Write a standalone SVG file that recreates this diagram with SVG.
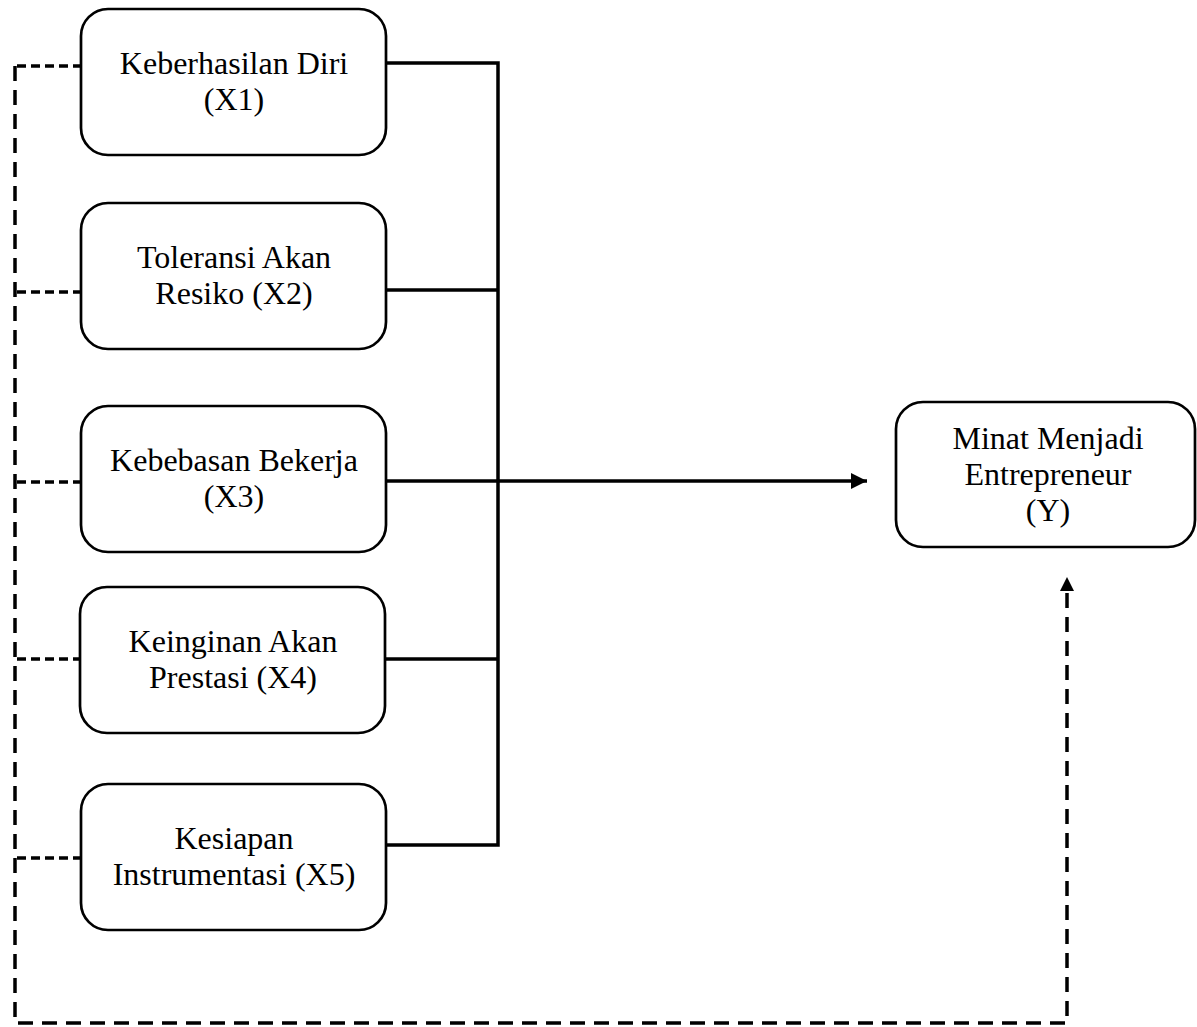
<svg xmlns="http://www.w3.org/2000/svg" width="1197" height="1027" viewBox="0 0 1197 1027">
<style>
.box{fill:#fff;stroke:#000;stroke-width:2.7}
.t{font-family:"Liberation Serif","Times New Roman",serif;font-size:32px;fill:#000;text-anchor:middle}
.solid{fill:none;stroke:#000;stroke-width:3.5}
.dash{fill:none;stroke:#000;stroke-width:3.5;stroke-dasharray:15 9}
.dashs{fill:none;stroke:#000;stroke-width:3.5;stroke-dasharray:9 5}
</style>
<defs>
<marker id="ah2" markerWidth="16" markerHeight="16" refX="16" refY="8" orient="auto" markerUnits="userSpaceOnUse" viewBox="0 0 16 16">
<path d="M0,0 L16,8 L0,16 Z" fill="#000"/>
</marker>
</defs>
<g id="connectors">
<path class="solid" d="M386,63 H498 V845 H386"/>
<path class="solid" d="M386,290 H498"/>
<path class="solid" d="M386,659 H498"/>
<path class="solid" d="M386,481 H867" marker-end="url(#ah2)"/>
<path class="dash" d="M15,66 V1023 H1067 V591"/>
<path d="M1060,591 L1074,591 L1067,577 Z" fill="#000"/>
<path class="dashs" d="M17,66 H81"/>
<path class="dashs" d="M17,292 H81"/>
<path class="dashs" d="M17,482 H81"/>
<path class="dashs" d="M17,659 H81"/>
<path class="dashs" d="M17,858 H81"/>
</g>
<g id="x1">
<rect class="box" x="81" y="9" width="305" height="146" rx="27"/>
<text class="t" x="234" y="74">Keberhasilan Diri</text>
<text class="t" x="234" y="110">(X1)</text>
</g>
<g id="x2">
<rect class="box" x="81" y="203" width="305" height="146" rx="27"/>
<text class="t" x="234" y="268">Toleransi Akan</text>
<text class="t" x="234" y="304">Resiko (X2)</text>
</g>
<g id="x3">
<rect class="box" x="81" y="406" width="305" height="146" rx="27"/>
<text class="t" x="234" y="471">Kebebasan Bekerja</text>
<text class="t" x="234" y="507">(X3)</text>
</g>
<g id="x4">
<rect class="box" x="80" y="587" width="305" height="146" rx="27"/>
<text class="t" x="233" y="652">Keinginan Akan</text>
<text class="t" x="233" y="688">Prestasi (X4)</text>
</g>
<g id="x5">
<rect class="box" x="81" y="784" width="305" height="146" rx="27"/>
<text class="t" x="234" y="849">Kesiapan</text>
<text class="t" x="234" y="885">Instrumentasi (X5)</text>
</g>
<g id="y">
<rect class="box" x="896" y="402" width="299" height="145" rx="27"/>
<text class="t" x="1048" y="449">Minat Menjadi</text>
<text class="t" x="1048" y="485">Entrepreneur</text>
<text class="t" x="1048" y="521">(Y)</text>
</g>
</svg>
